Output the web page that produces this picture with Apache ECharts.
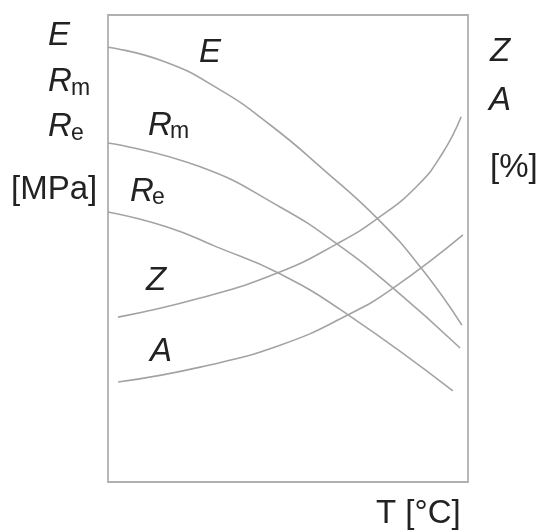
<!DOCTYPE HTML>
<html>
<head>
    <meta charset="utf-8">
    <title>E, Rm, Re, Z, A - T</title>
    <script src="https://cdnjs.cloudflare.com/ajax/libs/echarts/6.0.0/echarts.min.js"></script>
    <style>
        html, body { margin: 0; padding: 0; background: #fff; }
        #container { width: 540px; height: 532px; }
    </style>
</head>
<body>
<div id="container"></div>
<script>
    // T in % of the axis span, value in % of the axis height
    var curveE  = [[0, 93.1], [15, 90.2], [30, 84.5], [45, 76.5], [60, 66.8], [75, 56.3], [87, 45.8], [98.3, 33.6]];
    var curveRm = [[0, 72.6], [25.6, 67.5], [47.8, 58.9], [63.6, 51.0], [79.2, 41.5], [97.8, 28.7]];
    var curveRe = [[0, 57.8], [16.4, 54.6], [30, 50.4], [47.2, 44.8], [66.7, 35.8], [95.8, 19.5]];
    var curveZ  = [[2.8, 35.3], [25.6, 39.4], [47.2, 44.8], [63.6, 51.0], [75, 56.5], [86, 63.5], [93, 70.5], [98.1, 78.2]];
    var curveA  = [[2.8, 21.4], [25.6, 24.6], [47.8, 29.3], [66.7, 35.8], [79.2, 41.5], [98.6, 52.9]];

    var lineColor = '#a3a3a3';
    var textColor = '#222';
    var fontName = '"Liberation Sans", Arial, sans-serif';

    function txt(text, x, y, size, italic){
        return {
            type: 'text',
            x: x,
            y: y,
            silent: true,
            style: {
                text: text,
                fill: textColor,
                fontSize: size,
                fontFamily: fontName,
                fontStyle: italic ? 'italic' : 'normal',
                textAlign: 'left',
                textVerticalAlign: 'middle'
            }
        };
    }

    function curve(name, data){
        return {
            name: name,
            type: 'line',
            smooth: true,
            showSymbol: false,
            symbol: 'none',
            silent: true,
            lineStyle: { color: lineColor, width: 1.6 },
            data: data
        };
    }

    var myChart = echarts.init(document.getElementById('container'));
    var option = {
        animation: false,
        backgroundColor: '#fff',
        grid: {
            left: 108, top: 15, right: 72, bottom: 50,
            show: true,
            borderColor: '#b0b0b0',
            borderWidth: 1.8
        },
        xAxis: {
            type: 'value', min: 0, max: 100,
            axisLine: { show: false }, axisTick: { show: false },
            axisLabel: { show: false }, splitLine: { show: false }
        },
        yAxis: {
            type: 'value', min: 0, max: 100,
            axisLine: { show: false }, axisTick: { show: false },
            axisLabel: { show: false }, splitLine: { show: false }
        },
        series: [
            curve('E', curveE),
            curve('Rm', curveRm),
            curve('Re', curveRe),
            curve('Z', curveZ),
            curve('A', curveA)
        ],
        graphic: [
            // left axis labels
            txt('E', 48, 36, 33, true),
            txt('R', 48, 82, 33, true),
            txt('m', 71, 89, 23, false),
            txt('R', 48, 127, 33, true),
            txt('e', 71, 134, 23, false),
            txt('[MPa]', 11, 190, 33, false),
            // right axis labels
            txt('Z', 490, 52, 33, true),
            txt('A', 489, 101, 33, true),
            txt('[%]', 490, 168, 33, false),
            // curve labels
            txt('E', 199, 53, 33, true),
            txt('R', 148, 126, 33, true),
            txt('m', 170, 132, 23, false),
            txt('R', 130, 192, 33, true),
            txt('e', 152, 198, 23, false),
            txt('Z', 146, 281, 33, true),
            txt('A', 150, 352, 33, true),
            // x axis label
            txt('T [°C]', 376, 514, 33, false)
        ]
    };
    myChart.setOption(option, true);
</script>
</body>
</html>
